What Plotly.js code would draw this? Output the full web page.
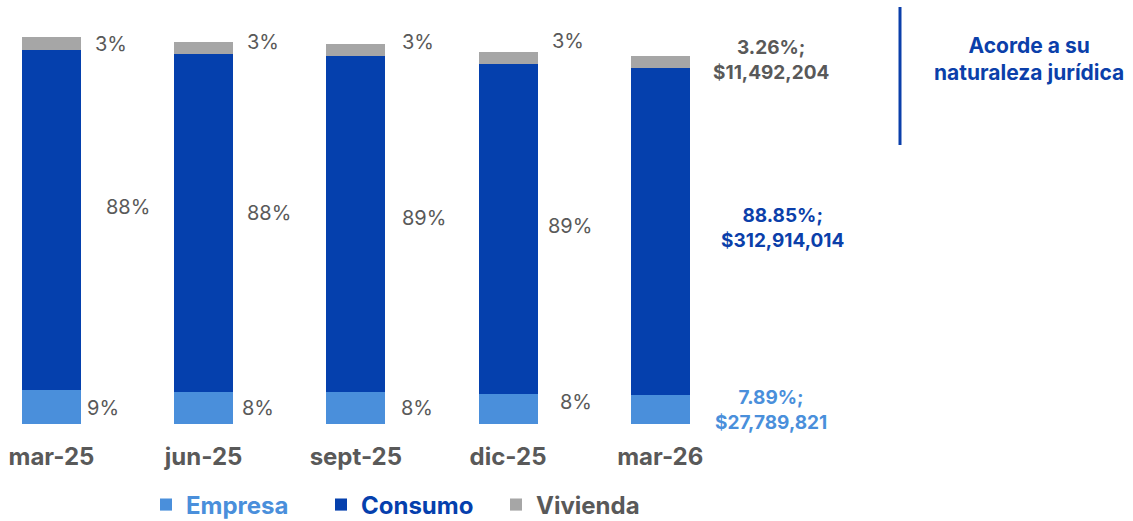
<!DOCTYPE html>
<html>
<head>
<meta charset="utf-8">
<script src="https://cdn.plot.ly/plotly-3.0.1.min.js"></script>
<style>html,body{margin:0;padding:0;background:#fff;}#chart{width:1133px;height:521px;}</style>
</head>
<body>
<div id="chart"></div>
<script>
// ---- Data ----
const categories = ['mar-25', 'jun-25', 'sept-25', 'dic-25', 'mar-26'];
const empresa  = [32100000, 30900000, 30200000, 28300000, 27789821];
const consumo  = [326100000, 323000000, 322000000, 316000000, 312914014];
const vivienda = [12500000, 12200000, 11500000, 11800000, 11492204];
const empresaLabels  = ['9%', '8%', '8%', '8%', '7.89%;<br>$27,789,821'];
const consumoLabels  = ['88%', '88%', '89%', '89%', '88.85%;<br>$312,914,014'];
const viviendaLabels = ['3%', '3%', '3%', '3%', '3.26%;<br>$11,492,204'];
const seriesNames = ['Empresa', 'Consumo', 'Vivienda'];
const titleText = 'Acorde a su<br>naturaleza jurídica';

// ---- Styles ----
const FONT = 'Inter, Roboto, "DejaVu Sans", sans-serif';
const colors = {Empresa: '#4A8FDB', Consumo: '#0540AD', Vivienda: '#A6A6A6'};
const labelGray = '#595959';
const lastLabelColors = {Empresa: '#4A8FDB', Consumo: '#0B3FAA', Vivienda: '#595959'};
const xShift = {
  Empresa:  [52, 54, 61, 68, 111],
  Consumo:  [77, 65, 68, 62, 122],
  Vivienda: [60, 59, 62, 60, 111]
};
const yShift = {
  Empresa:  [-1, 0, 0, 7, -1],
  Consumo:  [13, 10, 6, 3, 4],
  Vivienda: [-1, 6, 8, 17, 2]
};

const seriesData = {Empresa: empresa, Consumo: consumo, Vivienda: vivienda};
const seriesLabels = {Empresa: empresaLabels, Consumo: consumoLabels, Vivienda: viviendaLabels};

const traces = seriesNames.map(n => ({
  type: 'bar',
  x: categories,
  y: seriesData[n],
  name: '<span style="color:' + (n === 'Vivienda' ? labelGray : colors[n]) + '">' + n + '</span>',
  marker: {color: colors[n], line: {width: 0}},
  hoverinfo: 'skip'
}));

const annotations = [];
const base = categories.map(() => 0);
seriesNames.forEach(n => {
  const vals = seriesData[n];
  vals.forEach((v, i) => {
    const last = i === categories.length - 1;
    annotations.push({
      x: categories[i], xref: 'x',
      y: base[i] + v / 2, yref: 'y',
      text: seriesLabels[n][i],
      showarrow: false,
      xanchor: 'center', yanchor: 'middle',
      xshift: xShift[n][i], yshift: yShift[n][i],
      align: 'center',
      font: last
        ? {family: FONT, size: 19, weight: 'bold', color: lastLabelColors[n]}
        : {family: FONT, size: 20, color: labelGray}
    });
    base[i] += v;
  });
});

annotations.push({
  x: 1029 / 1133, xref: 'paper',
  y: (424 - 59) / 424, yref: 'paper',
  text: titleText, showarrow: false,
  xanchor: 'center', yanchor: 'middle', align: 'center',
  font: {family: FONT, size: 21, weight: 'bold', color: '#0B3FAA'}
});

const layout = {
  width: 1133, height: 521,
  margin: {l: 0, r: 0, t: 0, b: 97, pad: 0},
  paper_bgcolor: '#ffffff', plot_bgcolor: '#ffffff',
  barmode: 'stack',
  bargap: 0.612,
  showlegend: true,
  legend: {
    orientation: 'h', traceorder: 'normal',
    x: 146 / 1133, xanchor: 'left', xref: 'container',
    y: 1 - 505 / 521, yanchor: 'middle', yref: 'container',
    font: {family: FONT, size: 24, weight: 'bold', color: labelGray},
    bgcolor: 'rgba(0,0,0,0)', borderwidth: 0,
    entrywidth: 130, entrywidthmode: 'pixels'
  },
  xaxis: {
    type: 'category',
    range: [-0.338, 7.106],
    showgrid: false, zeroline: false, showline: false, ticks: '',
    tickfont: {family: FONT, size: 24, weight: 'bold', color: labelGray},
    ticklabelstandoff: 16,
    fixedrange: true
  },
  yaxis: {
    range: [0, 406000000],
    visible: false, showgrid: false, zeroline: false, fixedrange: true
  },
  shapes: [{
    type: 'line', xref: 'paper', yref: 'paper',
    x0: 900 / 1133, x1: 900 / 1133,
    y0: (424 - 7) / 424, y1: (424 - 145) / 424,
    line: {color: '#0B3FAA', width: 3}
  }],
  annotations: annotations,
  font: {family: FONT}
};

Plotly.newPlot('chart', traces, layout, {displayModeBar: false, staticPlot: true});
</script>
</body>
</html>
